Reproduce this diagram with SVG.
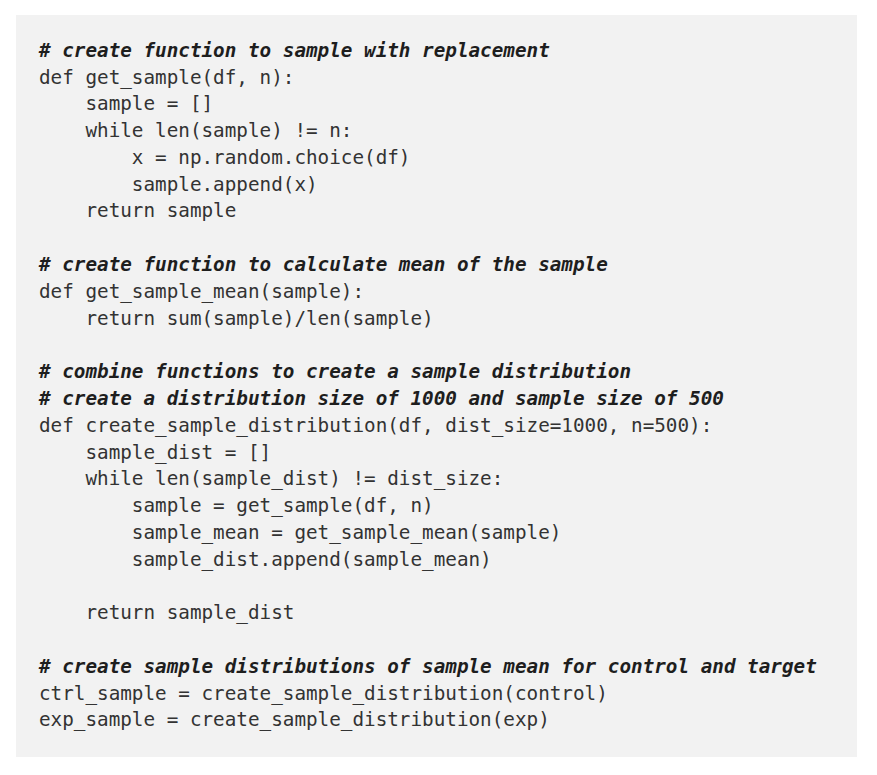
<svg xmlns="http://www.w3.org/2000/svg" width="877" height="775" viewBox="0 0 877 775">
<style>
text { font-family: "DejaVu Sans Mono", "Liberation Mono", monospace; font-size: 19.3px; white-space: pre; fill: #333333; }
.c { font-weight: bold; font-style: italic; fill: #1e1e1e; }
</style>
<rect x="0" y="0" width="877" height="775" fill="#ffffff"/>
<g id="code-block">
<rect x="16" y="15" width="841" height="742" fill="#f2f2f2"/>
<g id="code" xml:space="preserve">
<text class="c" x="39" y="57"># create function to sample with replacement</text>
<text x="39" y="84">def get_sample(df, n):</text>
<text x="39" y="110">    sample = []</text>
<text x="39" y="137">    while len(sample) != n:</text>
<text x="39" y="164">        x = np.random.choice(df)</text>
<text x="39" y="191">        sample.append(x)</text>
<text x="39" y="217">    return sample</text>
<text class="c" x="39" y="271"># create function to calculate mean of the sample</text>
<text x="39" y="298">def get_sample_mean(sample):</text>
<text x="39" y="325">    return sum(sample)/len(sample)</text>
<text class="c" x="39" y="378"># combine functions to create a sample distribution</text>
<text class="c" x="39" y="405"># create a distribution size of 1000 and sample size of 500</text>
<text x="39" y="432">def create_sample_distribution(df, dist_size=1000, n=500):</text>
<text x="39" y="459">    sample_dist = []</text>
<text x="39" y="485">    while len(sample_dist) != dist_size:</text>
<text x="39" y="512">        sample = get_sample(df, n)</text>
<text x="39" y="539">        sample_mean = get_sample_mean(sample)</text>
<text x="39" y="566">        sample_dist.append(sample_mean)</text>
<text x="39" y="619">    return sample_dist</text>
<text class="c" x="39" y="673"># create sample distributions of sample mean for control and target</text>
<text x="39" y="700">ctrl_sample = create_sample_distribution(control)</text>
<text x="39" y="726">exp_sample = create_sample_distribution(exp)</text>
</g>
</g>
</svg>
